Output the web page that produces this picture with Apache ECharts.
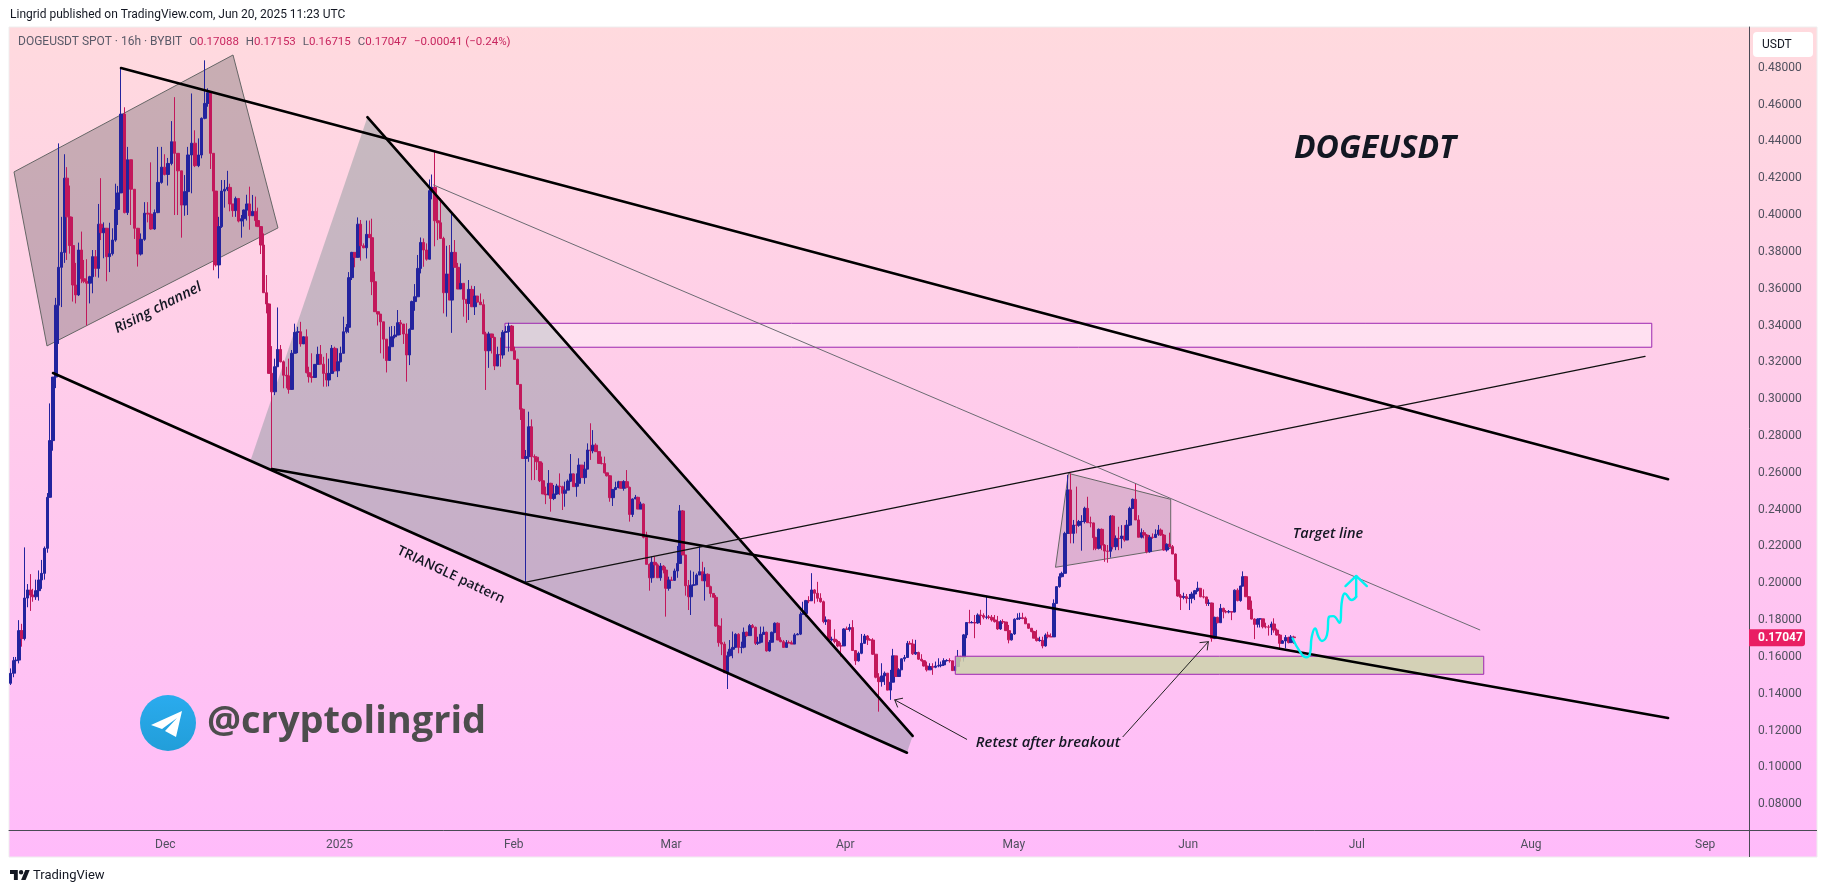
<!DOCTYPE html>
<html>
<head>
<meta charset="utf-8">
<title>DOGEUSDT</title>
<style>
html, body { margin: 0; padding: 0; background: #fff; }
#chart { width: 1827px; height: 893px; }
</style>
<script src="https://cdn.jsdelivr.net/npm/echarts@6/dist/echarts.min.js"></script>
</head>
<body>
<div id="chart"></div>
<script>
// prices below are in thousandths of USDT, one group of ten bars per row
var firstOpen = 145.7;
var closes = [
    151.1,158,158.3,174.3,170,192,196.4,193.6,192.7,196,
    201.8,205.4,219,246.7,277.5,312,351,371.6,379.7,420,
    399,383.4,362,356.6,381,365.4,364,363,366.5,377.4,
    371,395,390.4,392.8,377.4,379,386.4,403,412,454.8,
    401.3,430,414,392.8,378.8,386.8,401,400.5,392.4,401.3,
    417.7,426,422,428,439.8,433.5,424,405.4,412.7,432.6,
    439,426.8,432.6,452.5,460.6,466.4,433.5,413,372.9,393.7,
    413,414,415,406,402.4,409,396.7,398,402.7,406,
    399.6,402,397,393.7,383.7,357.8,351.7,314,304,317.6,
    327,320.3,313,312.6,305.3,324.9,336.3,336.6,330,333.9,
    314.4,312.2,311.8,318.9,324.3,319,314,310.4,314,327.6,
    315.4,320.3,324.9,336.6,339,366,379.7,377,395,383.3,
    382.2,389.5,387.7,363.8,347.5,346.2,342,332.6,321,328.5,
    333.9,334.8,341.5,340.8,335.4,324,337.9,353,355.6,371,
    385.1,381,376,413.2,415,396.9,395.8,387.3,357.8,368,
    353.8,379.7,371.6,359.8,362.9,354.2,352,359.6,350.2,356,
    352.7,351.3,335.4,326.3,335.4,333.5,318,324.3,324,336.3,
    336.7,339.7,326.3,321.6,308,294.5,267.8,268.8,285,268.8,
    268.5,266,255.7,248.5,248,254.3,246.1,248.5,252.8,252.5,
    248.9,250.6,255.5,259.4,252.5,254.3,264.2,257.4,262,272.4,
    272,275,271.5,265.1,265,260,258.4,246.5,251,252,
    255.2,251.6,255.2,252.1,237.4,245.8,246.7,240.3,243,225,
    210.3,203,211.4,210,203,209.4,207.2,197.3,201.8,201.6,
    206.7,210.8,239.3,215.4,198.7,192.7,199,199.2,204.5,206.3,
    201.4,204.9,198.2,194.5,192.4,176.8,167.8,167,151.5,160.7,
    164.2,165.2,172.3,165.2,165.3,173.4,171.6,177,176.1,167.4,
    168,172.3,173.4,163.3,168,173.4,178.3,169.2,168.3,165.2,
    167.8,167.6,167,172,172.4,183.2,183.6,190.6,190.5,196.4,
    194.6,191.9,190,179.2,180.1,169.3,169.6,168.4,166,166,
    175.2,175,176,163.5,157.9,162,167.4,171.4,169.3,169.2,
    161.5,149,146.6,149.7,151.2,142,146.3,160.6,149.4,153,
    159,159.7,167.4,167,161.7,162.4,158.8,158,155.1,153,
    154.8,154.4,155.1,155.3,155.7,158,158.1,157.9,152.6,154.8,
    159.8,159.7,172,178.7,178.6,178.7,178.5,182.8,182.5,181.6,
    181.7,181.5,180.1,179.2,175.2,179.2,179,174.3,169.3,172.5,
    180.5,181,181.2,181,178,175.6,173.8,170.2,168.9,169,
    166,171.9,171,170.9,189.1,198.2,203.6,205.4,227.1,250.7,
    227.1,231.6,231.5,233.5,233.6,240.7,232.9,232.8,224.8,219,
    229.3,220.8,217.5,217.4,236.5,219.9,224.4,224.3,225.7,223.5,
    231.6,240.7,245.6,234.4,225,227.5,226.2,217.2,225,224.9,
    226.6,228.9,226.2,218.1,221.2,219.9,215.9,201.8,193.1,192.4,
    192.7,191.8,191.9,194.2,196,197.3,192.7,192.6,189.1,189.3,
    170.1,181.5,178.6,186.4,184.6,184.5,184.6,184.4,196.3,190.6,
    198.5,203.6,192.7,185.9,180.6,177.7,180.6,180.7,176.4,176.3,
    176.2,177.9,174.6,171.9,167.4,168.7,170.6,167.8,170.88,170.47
];
var highs = [
    153.8,160,160,180,178,219.5,199.6,205,197,202,
    207,212.7,220,249,297.7,312,355,438.9,399,433,
    426,416,399,374,385,391,375.6,376,367,381,
    381,406,420,396,393,395.8,392.8,417,415.8,480,
    458.5,437,430,414,393,390,407,407,428.6,403,
    437,437,433,431,451,464,433.5,424,421.7,437,
    466,446,441.6,453,484,468.8,466.4,433.5,413,399,
    419,419,424,417,406,410,409,400,403,411,
    415.4,410.9,410,404,394,390,367.4,352,328.8,322,
    349.8,329.4,321,317.6,322,326.7,341,339.3,342,334,
    337.9,317.6,324.9,319,328.5,329.4,323,325,322,329.4,
    328.5,327.6,328.5,344.8,340.8,369,380,379.7,398.7,397.3,
    384.6,397,397,398,369.2,347.5,346.2,342,332.6,339.3,
    339.7,339.7,348.4,343,340.8,341.2,338.4,353.5,362.5,378.3,
    387.8,387.3,384.6,419.3,422,434.4,410,409,388.2,383.3,
    383.7,401.2,386.4,374,373.7,362.9,354.2,364.7,361.6,361.4,
    356,357.4,354.2,336.6,336.6,335.5,333.9,328.5,333.5,337.5,
    339.7,341.5,340.2,328.5,322,308,295,272.4,293.2,289,
    270,269,263.6,265.5,252.5,261.5,254.6,253.4,254,259.7,
    253,255.2,256.4,270.2,259.7,259.7,267.9,264.2,266,276,
    286.9,283.2,276,271.5,268.8,268.8,260,258.8,251.2,255.2,
    255.7,255.2,256,261.5,252.5,246.1,248,247,244.3,243.4,
    228,210.8,214.5,214.5,210.8,211,209.9,209,203.6,203.6,
    208,220.3,242.5,239.8,215.4,201.8,207,206.3,205.4,220.3,
    211.7,208.7,205.4,198.7,194.5,193.6,177.4,181,168.3,162.9,
    169.2,173.8,172.9,172.9,168.3,176,173.8,177.9,177.9,176.5,
    171,176.5,176.5,173.8,169.2,173.8,178.8,178.8,170.7,169.2,
    169.2,168.9,168.9,172.9,173,184.6,190,191,193,205.5,
    196.8,200.8,194.6,190.6,182,180.5,171,175,169.3,167.8,
    175.6,176.5,178,180,163.8,162.9,172.5,172.5,171.9,170.2,
    170.2,161.5,151.2,156.6,152.1,151.2,153,164.4,160.6,153.9,
    159.3,161.1,168.7,168.7,169.6,169.3,162.9,161.5,158,157.5,
    156.6,156.6,157.5,159.3,157.5,159.3,158.8,159.3,157.9,155.7,
    163.8,160.6,172.5,178.7,185.6,179.5,182.8,183.7,185.6,183.7,
    193.1,182.8,182.8,182.8,182.3,180,180.5,178.7,177.4,172.9,
    181,183.7,184,184,181.9,178,175.6,174.3,174.7,171,
    171,172.8,173.7,172.8,191.3,198.5,205.4,206.3,228,258.8,
    259.7,234.4,252.5,234.4,237,241.6,247,236.2,233,225.3,
    229.8,229.8,221.3,220.8,237,237,226,230.7,231.6,231.6,
    234.4,241.6,246.1,254.3,237,229.8,228.9,226.8,226.2,227.1,
    229.3,231.7,229.8,226.8,221.7,227.5,220.8,216.2,201.9,194.2,
    194.9,194.2,194.2,195.4,196.4,200.9,197.3,196.7,192.7,191.3,
    189.5,181.9,181.9,188.8,186.8,185.5,185.5,184.6,196.7,197.3,
    198.7,206.5,204,193.1,190.6,181,181,181,180.7,178.6,
    177.4,179.2,181,175.5,172.5,169.2,171.9,171,171.9,171.53
];
var lows = [
    144.8,149,151,156.5,165.6,169,187,185,190,191,
    190.6,197,202,216.6,272.8,272,306,330,350,374,
    375.6,379,353,352,356,363,363,340,352,357.5,
    366.5,366,386.4,376.5,364,369,378,385.5,394.6,412,
    400.9,400,394.6,387,372,378,386,396,392,392,
    401,417,421.5,416,427,400,400,387.7,399.6,400,
    411.8,426,426,430.8,452,458.8,425,370,372,365.6,
    393,404,413,402,399,399,396,387.7,393.7,397,
    392,399.6,393.7,393.7,378.8,357.8,346.6,314,262,302.2,
    317.6,320,305.9,305.9,303,305,324.9,325,328.5,330,
    314,309,309,311.8,318.9,319,306.8,306.8,307,314,
    315,312,320,324.9,335.7,336,364.7,371.6,378.8,375.2,
    382,376.4,387.5,356.5,347.5,340,324.9,322,314.5,321,
    328.5,333,334.8,334.8,330,309.5,318.5,337.9,348,355.6,
    368.3,371.9,375.2,376,408.5,383,386.4,387,346.6,344.8,
    353.8,336,371.6,359.8,359.8,344.8,341.5,343,350,345.7,
    352.7,351.3,335.4,305,317,324.8,315.8,318,317.6,322,
    336,325.8,326.3,321.6,308,288.7,267.8,200,266,256,
    256.1,261.5,255,248.5,243,247.9,238.9,245.2,248,248,
    239.8,241.6,250.6,255,252.5,247,252.5,257.4,254,262,
    267,270.6,271.5,265.1,264.6,259.7,258,244.3,242,250.6,
    251.6,251.6,250.3,251.6,233.5,236,245.8,240.3,240.3,224.4,
    210.3,196,200.3,203,203,201.4,205.4,181.9,196,201.5,
    201.8,203,210.8,215.4,193.3,185.5,182.8,198.5,199,204.5,
    201.4,190.6,198.2,192.4,192.4,176.4,165.6,161,151.2,142.6,
    160.2,159.3,165,162,162,164.7,171,171.6,175.6,166.5,
    166.5,167.4,172.9,162.9,162.9,167.8,172.9,169.2,168,165.2,
    165.2,167.4,167,167,172,171.9,182.8,182,189.2,190.6,
    189,190,189.5,178.3,177.4,168.4,168.4,167.4,165.3,160.2,
    166,174.7,173.8,163.5,155.7,157.5,161.5,167.4,166.5,169,
    161.1,148.4,130.3,143.9,144.8,142,136.7,146.3,149.4,149.4,
    153,157.5,159.7,166.9,161.1,161.1,158.4,157.5,154.8,152.1,
    153,150.3,153.9,154.4,154.4,155.1,157.5,156.9,152.4,152.6,
    154.8,157.5,157.5,170.2,178.3,178.3,170.2,178,177.4,180.5,
    180.5,180.5,179.2,178.7,174.7,174.7,177.9,174.3,167.4,168.9,
    172,180.1,180.1,180.5,178,175.2,173.4,170.2,168.4,168.3,
    164.7,165.6,170.1,170.9,170.9,189,197.6,203.2,205.4,226.8,
    221.7,221.7,227.1,230.7,217.7,232.5,232.9,230.4,218,218,
    218.4,218,211.7,211.2,214,218.4,218,218,219,222.6,
    223.5,231.1,240.3,234.4,225,224.4,224.4,216.3,216.6,224.2,
    225.3,225.8,225.7,217.7,217.2,219.5,215.9,200.9,192.7,185.5,
    191.3,189.1,185.5,189.1,190.9,195.4,192.4,191.8,187.7,187.7,
    168.3,169.7,178.3,178.6,181,183.7,183.7,180,184.2,190.2,
    190,198.2,192.7,185.5,180.4,169.7,176,176,175.5,175.5,
    171.6,171.9,173.2,171.6,163.8,167.4,164.7,167.4,167.8,167.15
];

// dates of a few landmark bars (tops and long wicks), as days after 1 Dec 2024
var landmarkBars = [0, 39, 64, 88, 145, 177, 232, 249, 279, 302, 340, 369, 449];
var landmarkDays = [-27.55, -7.88, 7.06, 18.99, 48, 64.18, 91.6, 100, 115, 127, 146.1, 160.6, 200.84];

var priceTicks = [0.08, 0.10, 0.12, 0.14, 0.16, 0.18, 0.20, 0.22, 0.24, 0.26, 0.28, 0.30,
    0.32, 0.34, 0.36, 0.38, 0.40, 0.42, 0.44, 0.46, 0.48];
var lastPrice = 0.17047;

// drawings: [days after 1 Dec 2024, price]
var channelBox = [[-26.92, 0.4234], [12.05, 0.4869], [20.05, 0.3930], [-21.05, 0.3289]];
var triangleArea = [[35.96, 0.4531], [132.98, 0.1171], [131.97, 0.1080], [15.2, 0.2670]];
var flagBox = [[160.7, 0.2597], [178.9, 0.2456], [178.9, 0.2190], [158.4, 0.2087]];
var upperZone = [[60.44, 0.3412], [264.5, 0.3412], [264.5, 0.3282], [60.44, 0.3282]];
var lowerZone = [[140.57, 0.1604], [234.6, 0.1604], [234.6, 0.1506], [140.57, 0.1506]];

var topLine = [[-7.88, 0.4798], [267.4, 0.2565]];
var lowerLeftLine = [[-19.98, 0.3142], [131.97, 0.1080]];
var triangleEdge = [[35.96, 0.4531], [132.98, 0.1171]];
var midLine = [[18.99, 0.2621], [267.4, 0.1269]];
var risingLine = [[64.18, 0.2007], [263.3, 0.3232]];
var targetLine = [[47.74, 0.4163], [233.9, 0.1747]];

var arrowOne = [[142.6, 0.1153], [129.8, 0.1367]];
var arrowOneHead = [[131.2, 0.1376], [129.8, 0.1367], [130.3, 0.1328]];
var arrowTwo = [[170.4, 0.1167], [185.6, 0.1683]];
var arrowTwoHead = [[184.1, 0.1678], [185.6, 0.1683], [185.4, 0.1638]];

var wavePath = [[200.6, 0.1701], [201.9, 0.1629], [203, 0.1598], [203.7, 0.162], [204, 0.171],
    [204.6, 0.1755], [205.2, 0.171], [205.8, 0.1687], [206.7, 0.1719], [207.1, 0.1819],
    [207.8, 0.1822], [208.9, 0.1786], [209.4, 0.1909], [209.9, 0.1945], [211.1, 0.1909], [211.9, 0.1927]];
var waveStem = [[211.9, 0.1927], [211.9, 0.204]];
var waveHead = [[210, 0.1985], [211.9, 0.204], [213.8, 0.1985]];

var DAY = 86400000;
var dec1 = Date.UTC(2024, 11, 1);

function toTime(day) {
    return dec1 + day * DAY;
}
function toPoint(p) {
    return [toTime(p[0]), p[1]];
}
// bars between two landmarks are spread evenly
function barDay(i) {
    var k = 0;
    while (k < landmarkBars.length - 2 && i > landmarkBars[k + 1]) {
        k++;
    }
    var share = (i - landmarkBars[k]) / (landmarkBars[k + 1] - landmarkBars[k]);
    return landmarkDays[k] + share * (landmarkDays[k + 1] - landmarkDays[k]);
}

var candles = closes.map(function (c, i) {
    var open = i === 0 ? firstOpen : closes[i - 1];
    return [toTime(barDay(i)), open / 1000, c / 1000, lows[i] / 1000, highs[i] / 1000];
});

var monthNames = ['Jan', 'Feb', 'Mar', 'Apr', 'May', 'Jun', 'Jul', 'Aug', 'Sep', 'Oct', 'Nov', 'Dec'];

function lineOf(points, color, width, z, smooth) {
    return {
        type: 'line',
        data: points.map(toPoint),
        showSymbol: false,
        smooth: smooth || false,
        silent: true,
        z: z,
        lineStyle: { color: color, width: width, cap: 'round' }
    };
}

function areaOf(points, fill, stroke, width, z) {
    return {
        type: 'custom',
        silent: true,
        z: z,
        clip: false,
        data: [toPoint(points[0])],
        renderItem: function (params, api) {
            return {
                type: 'polygon',
                shape: { points: points.map(function (p) { return api.coord(toPoint(p)); }) },
                style: { fill: fill, stroke: stroke, lineWidth: width }
            };
        }
    };
}

var purple = '#9c27b0';

var option = {
    animation: false,
    useUTC: true,
    textStyle: { fontFamily: 'Roboto' },
    grid: { left: 9, right: 78, top: 27, bottom: 63 },
    xAxis: {
        type: 'time',
        min: toTime(-27.81),
        max: toTime(281.8),
        minInterval: 28 * DAY,
        axisLine: { onZero: false, lineStyle: { color: '#4a4a55', width: 1 } },
        axisTick: { show: false },
        splitLine: { show: false },
        axisLabel: {
            color: '#50505e',
            fontSize: 12,
            margin: 9,
            showMinLabel: false,
            showMaxLabel: false,
            formatter: function (value) {
                var d = new Date(value);
                return d.getUTCMonth() === 0 ? String(d.getUTCFullYear()) : monthNames[d.getUTCMonth()];
            }
        }
    },
    yAxis: {
        type: 'value',
        position: 'right',
        min: 0.06604,
        max: 0.5021,
        scale: true,
        axisLine: { show: true, lineStyle: { color: '#4a4a55', width: 1 } },
        axisTick: { show: false },
        splitLine: { show: false },
        axisLabel: {
            color: '#50505e',
            fontSize: 12,
            margin: 9,
            customValues: priceTicks,
            formatter: function (value) { return value.toFixed(5); }
        }
    },
    series: [
        areaOf(channelBox, 'rgba(89,85,89,0.33)', '#666', 1, 1),
        areaOf(triangleArea, 'rgba(90,130,125,0.34)', 'transparent', 0, 1),
        areaOf(flagBox, 'rgba(89,85,89,0.2)', '#666', 1, 1),
        areaOf(upperZone, 'rgba(255,255,255,0.38)', purple, 1, 1),
        {
            type: 'candlestick',
            data: candles,
            barWidth: 3,
            z: 3,
            silent: true,
            itemStyle: {
                color: '#23239e',
                color0: '#c2185b',
                borderColor: '#23239e',
                borderColor0: '#c2185b',
                borderColorDoji: '#c2185b',
                borderWidth: 1
            }
        },
        areaOf(lowerZone, 'rgba(205,212,170,0.85)', purple, 1, 4),
        lineOf(topLine, '#000', 2.6, 5),
        lineOf(lowerLeftLine, '#000', 2.6, 5),
        lineOf(triangleEdge, '#000', 2.6, 5),
        lineOf(midLine, '#000', 2.6, 5),
        lineOf(risingLine, '#111', 1.3, 5),
        lineOf(targetLine, '#6b6b72', 1, 5),
        lineOf(arrowOne, '#222', 1, 5),
        lineOf(arrowOneHead, '#222', 1, 5),
        lineOf(arrowTwo, '#222', 1, 5),
        lineOf(arrowTwoHead, '#222', 1, 5),
        lineOf(wavePath, '#00f2f2', 2.4, 6, 0.5),
        lineOf(waveStem, '#00f2f2', 2.4, 6),
        lineOf(waveHead, '#00f2f2', 2.4, 6),
        {
            // last price tag on the axis
            type: 'custom',
            silent: true,
            clip: false,
            z: 7,
            data: [[toTime(281.8), lastPrice]],
            renderItem: function (params, api) {
                var c = api.coord([api.value(0), api.value(1)]);
                return {
                    type: 'group',
                    children: [
                        { type: 'rect', shape: { x: c[0], y: c[1] - 8.5, width: 56, height: 17, r: [0, 3, 3, 0] }, style: { fill: '#e91e63' } },
                        { type: 'text', style: { x: c[0] + 9, y: c[1] + 0.5, text: lastPrice.toFixed(5), fill: '#fff', font: 'bold 12px Roboto', verticalAlign: 'middle' } }
                    ]
                };
            }
        }
    ],
    graphic: {
        elements: [
            {
                type: 'rect', z: -10, silent: true,
                shape: { x: 9, y: 27, width: 1808, height: 830 },
                style: {
                    stroke: '#eee', lineWidth: 1,
                    fill: new echarts.graphic.LinearGradient(0, 0, 0, 1, [
                        { offset: 0, color: '#ffdade' },
                        { offset: 1, color: '#ffbbfa' }
                    ])
                }
            },
            { type: 'line', silent: true, shape: { x1: 1749.5, y1: 830, x2: 1749.5, y2: 857 }, style: { stroke: '#4a4a55', lineWidth: 1 } },
            { type: 'line', silent: true, shape: { x1: 1749, y1: 830.5, x2: 1817, y2: 830.5 }, style: { stroke: '#4a4a55', lineWidth: 1 } },
            { type: 'text', silent: true, x: 10, y: 15, style: { text: 'Lingrid published on TradingView.com, Jun 20, 2025 11:23 UTC', fill: '#131722', font: '12px Roboto', verticalAlign: 'middle' } },
            {
                type: 'text', silent: true, x: 18, y: 42,
                style: {
                    text: '{p|DOGEUSDT SPOT · 16h · BYBIT}{s|  }{g|O}{r|0.17088}{s|  }{g|H}{r|0.17153}{s|  }{g|L}{r|0.16715}{s|  }{g|C}{r|0.17047}{s|  }{r|−0.00041 (−0.24%)}',
                    verticalAlign: 'middle',
                    rich: {
                        p: { fill: '#5a5a68', font: '12px Roboto' },
                        s: { font: '14px Roboto' },
                        g: { fill: '#5a5a68', font: '11.5px Roboto' },
                        r: { fill: '#c8265f', font: '11.5px Roboto' }
                    }
                }
            },
            { type: 'rect', silent: true, shape: { x: 1753, y: 32, width: 60, height: 25, r: 4 }, style: { fill: '#fff' } },
            { type: 'text', silent: true, x: 1762, y: 44.5, style: { text: 'USDT', fill: '#131722', font: '12px Roboto', verticalAlign: 'middle' } },
            { type: 'text', silent: true, x: 1375, y: 149, style: { text: 'DOGEUSDT', fill: '#131722', font: 'italic bold 32px "Open Sans"', align: 'center', verticalAlign: 'middle' } },
            { type: 'text', silent: true, x: 158, y: 308, rotation: 0.47, style: { text: 'Rising channel', fill: '#131722', font: 'italic 600 14.5px "Open Sans"', align: 'center', verticalAlign: 'middle' } },
            { type: 'text', silent: true, x: 451, y: 575, rotation: -0.44, style: { text: 'TRIANGLE pattern', fill: '#131722', font: '600 13.5px "Open Sans"', align: 'center', verticalAlign: 'middle' } },
            { type: 'text', silent: true, x: 1048, y: 743, style: { text: 'Retest after breakout', fill: '#131722', font: 'italic 600 14.8px "Open Sans"', align: 'center', verticalAlign: 'middle' } },
            { type: 'text', silent: true, x: 1328, y: 534, style: { text: 'Target line', fill: '#131722', font: 'italic 600 14.5px "Open Sans"', align: 'center', verticalAlign: 'middle' } },
            { type: 'text', silent: true, x: 207, y: 722, style: { text: '@cryptolingrid', fill: '#4d4d4d', font: 'bold 38px "Open Sans"', verticalAlign: 'middle' } },
            {
                type: 'circle', silent: true, shape: { cx: 168, cy: 723, r: 28 },
                style: {
                    fill: new echarts.graphic.LinearGradient(0, 0, 0, 1, [
                        { offset: 0, color: '#2aabee' },
                        { offset: 1, color: '#229ed9' }
                    ])
                }
            },
            { type: 'polygon', silent: true, shape: { points: [[182, 711], [151, 725], [162, 729], [177, 718], [165, 731], [176, 737]] }, style: { fill: '#fff' } },
            { type: 'polygon', silent: true, shape: { points: [[17.8, 880], [13.9, 880], [13.9, 873.9], [10, 873.9], [10, 870], [17.8, 870]] }, style: { fill: '#131722' } },
            { type: 'polygon', silent: true, shape: { points: [[25.6, 880], [21.1, 880], [25.3, 870], [29.7, 870]] }, style: { fill: '#131722' } },
            { type: 'circle', silent: true, shape: { cx: 21.1, cy: 872.2, r: 2.2 }, style: { fill: '#131722' } },
            { type: 'text', silent: true, x: 33, y: 876, style: { text: 'TradingView', fill: '#131722', font: '13px Roboto', verticalAlign: 'middle' } }
        ]
    }
};

var myChart = echarts.init(document.getElementById('chart'));
myChart.setOption(option);
</script>
</body>
</html>
